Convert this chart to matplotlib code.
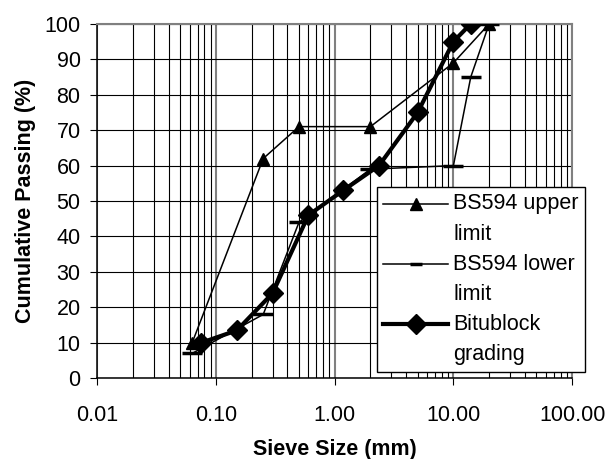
import matplotlib
matplotlib.use("Agg")
from matplotlib import pyplot as plt
from matplotlib.ticker import FixedLocator, LogLocator, NullFormatter

plt.rcParams['font.family'] = ['Liberation Sans', 'DejaVu Sans']

# BS594 upper limit
upper_size = [0.063, 0.25, 0.5, 2.0, 10.0, 20.0]
upper_pass = [10, 62, 71, 71, 89, 100]

# BS594 lower limit
lower_size = [0.063, 0.25, 0.5, 2.0, 10.0, 14.0, 20.0]
lower_pass = [7, 18, 44, 59, 60, 85, 100]

# Bitublock grading
bitu_size = [0.075, 0.15, 0.3, 0.6, 1.18, 2.36, 5.0, 10.0, 14.0]
bitu_pass = [10, 13.5, 24, 46, 53, 60, 75, 95, 100]

x_ticks = [0.01, 0.1, 1, 10, 100]
x_labels = ["0.01", "0.10", "1.00", "10.00", "100.00"]
y_ticks = list(range(0, 101, 10))

FS = 15.5


def main():
    fig = plt.figure(figsize=(6.08, 4.59), dpi=100)
    ax = fig.add_axes([0.16, 0.176, 0.781, 0.772])

    ax.set_xscale("log")
    ax.set_xlim(0.01, 100)
    ax.set_ylim(0, 100)

    # grid: black minor verticals, grey decade lines, black horizontals
    ax.xaxis.set_minor_locator(LogLocator(base=10, subs=range(2, 10), numticks=20))
    ax.xaxis.set_minor_formatter(NullFormatter())
    ax.grid(which="minor", axis="x", color="black", lw=0.8)
    ax.grid(which="major", axis="x", color="#808080", lw=1.5)
    ax.grid(which="major", axis="y", color="black", lw=0.8)
    ax.set_axisbelow(True)

    ax.plot(upper_size, upper_pass, color="black", lw=1.1, marker="^",
            ms=9, label="BS594 upper\nlimit", zorder=3)
    ax.plot(lower_size, lower_pass, color="black", lw=1.1, marker="_",
            ms=15, mew=2.5, label="BS594 lower\nlimit", zorder=3)
    ax.plot(bitu_size, bitu_pass, color="black", lw=3.0, marker="D",
            ms=10, label="Bitublock\ngrading", zorder=4)

    ax.xaxis.set_major_locator(FixedLocator(x_ticks))
    ax.set_xticklabels(x_labels)
    ax.set_yticks(y_ticks)
    ax.tick_params(axis="both", which="major", labelsize=FS, direction="out",
                   length=5, color="black")
    ax.tick_params(axis="x", which="minor", length=0)
    ax.tick_params(axis="x", pad=14)
    ax.tick_params(axis="y", pad=7)

    for side in ("top", "right"):
        ax.spines[side].set_color("#808080")
        ax.spines[side].set_linewidth(1.5)
    for side in ("left", "bottom"):
        ax.spines[side].set_color("black")
        ax.spines[side].set_linewidth(1.1)

    ax.set_xlabel("Sieve Size (mm)", fontsize=FS, fontweight="bold", labelpad=10)
    ax.set_ylabel("Cumulative Passing (%)", fontsize=FS, fontweight="bold", labelpad=6)

    leg = ax.legend(loc="upper left", bbox_to_anchor=(377 / 608, 1 - 187 / 459),
                    bbox_transform=fig.transFigure,
                    fontsize=FS, frameon=True, fancybox=False, framealpha=1,
                    edgecolor="black", handlelength=3.0, handletextpad=0.25,
                    labelspacing=0.4, borderpad=0.3, borderaxespad=0)
    leg.get_frame().set_linewidth(1.0)
    for t in leg.get_texts():
        t.set_linespacing(1.6)
    # put each handle beside the first line of its two-line label
    for h in leg.legend_handles:
        h.set_ydata([v + 11.5 for v in h.get_ydata()])
    leg.legend_handles[1].set_markersize(9)
    leg.set_zorder(5)

    fig.savefig("out.png", dpi=100)


if __name__ == "__main__":
    main()
